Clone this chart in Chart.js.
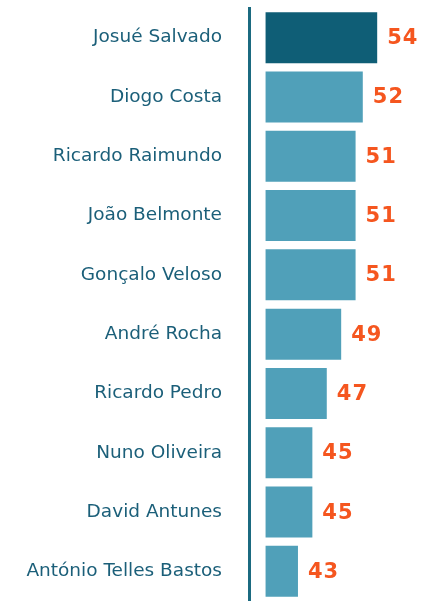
<!DOCTYPE html>
<html>
<head>
<meta charset="utf-8">
<script src="https://cdn.jsdelivr.net/npm/chart.js@4"></script>
<style>
  html, body { margin: 0; padding: 0; background: #fff; }
  #wrap { width: 424px; height: 601px; }
</style>
</head>
<body>
<div id="wrap"><canvas id="chart"></canvas></div>
<script>
// dados do gráfico
const names = [
    "Josué Salvado", "Diogo Costa", "Ricardo Raimundo", "João Belmonte", "Gonçalo Veloso",
    "André Rocha", "Ricardo Pedro", "Nuno Oliveira", "David Antunes", "António Telles Bastos"
];
const scores = [54, 52, 51, 51, 51, 49, 47, 45, 45, 43];
const highlighted = "Josué Salvado";

const darkBar = "#0f5e76";
const lightBar = "#50a0b9";
const labelColor = "#1b5f79";
const valueColor = "#f5561f";

// escreve os valores à direita de cada barra
const valueLabels = {
    id: 'valueLabels',
    afterDatasetsDraw(chart) {
        const ctx = chart.ctx;
        const meta = chart.getDatasetMeta(0);
        ctx.save();
        ctx.fillStyle = valueColor;
        ctx.font = "bold 21px 'DejaVu Sans'";
        ctx.textAlign = 'left';
        ctx.textBaseline = 'middle';
        if ('letterSpacing' in ctx) ctx.letterSpacing = '1px';
        meta.data.forEach((bar, i) => {
            ctx.fillText(String(scores[i]), bar.x + 10, bar.y + 1);
        });
        ctx.restore();
    }
};

new Chart(document.getElementById('chart').getContext('2d'), {
    type: 'bar',
    data: {
        labels: names,
        datasets: [{
            data: scores,
            base: 38.5,
            backgroundColor: names.map(n => n === highlighted ? darkBar : lightBar),
            borderWidth: 0,
            barPercentage: 0.86,
            categoryPercentage: 1
        }]
    },
    options: {
        indexAxis: 'y',
        responsive: true,
        maintainAspectRatio: false,
        animation: false,
        layout: { padding: { top: 8, bottom: 0, left: 0, right: 0 } },
        plugins: {
            legend: { display: false },
            tooltip: { enabled: false }
        },
        scales: {
            x: {
                display: false,
                min: 36.2,
                max: 60.5
            },
            y: {
                afterFit: (scale) => {
                    scale.width = 249;
                    scale.paddingTop = 0;
                    scale.paddingBottom = 0;
                },
                grid: { display: false, drawTicks: false },
                border: { display: true, color: "#1b6a80", width: 3 },
                ticks: {
                    color: labelColor,
                    padding: 27,
                    font: { family: "'DejaVu Sans'", size: 18.5 }
                }
            }
        }
    },
    plugins: [valueLabels]
});
</script>
</body>
</html>
